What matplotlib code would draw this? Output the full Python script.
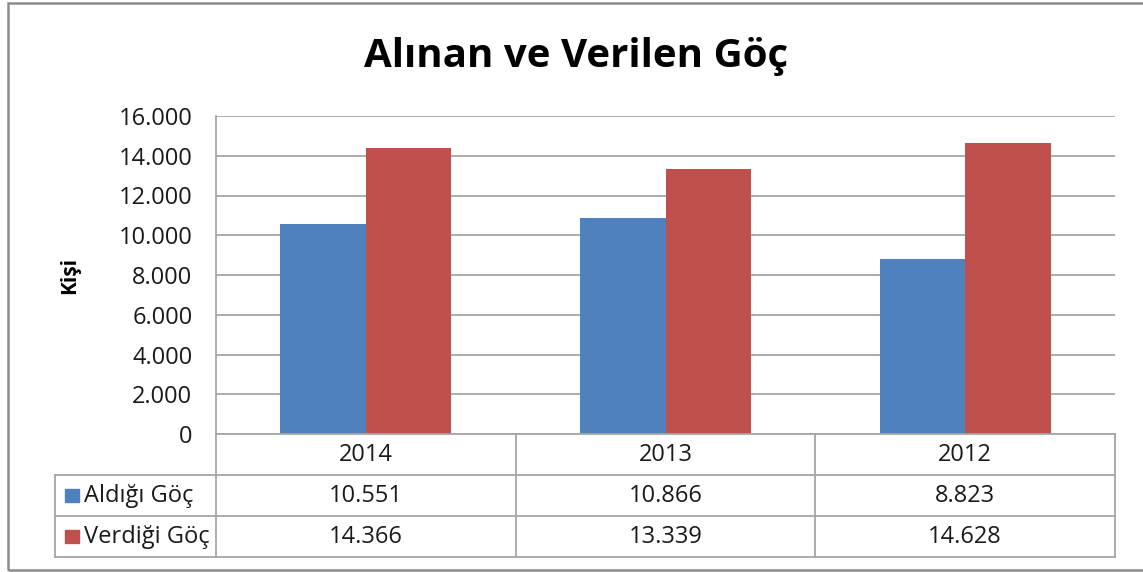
import matplotlib
matplotlib.use("Agg")
import matplotlib.pyplot as plt
from matplotlib.patches import Rectangle

years = ["2014", "2013", "2012"]
series_names = ["Aldığı Göç", "Verdiği Göç"]
aldigi = [10551, 10866, 8823]
verdigi = [14366, 13339, 14628]
yticks = [0, 2000, 4000, 6000, 8000, 10000, 12000, 14000, 16000]
title = "Alınan ve Verilen Göç"
ylabel = "Kişi"

colors = ["#4F81BD", "#C0504D"]
grid_c = "#A6A6A6"
FONT = ["Open Sans", "DejaVu Sans"]
plt.rcParams["font.family"] = FONT

W, H = 1143, 572
fig = plt.figure(figsize=(W / 100, H / 100), dpi=100)
fig.patch.set_facecolor("white")

def fx(px):
    return px / W

def fy(py):
    return 1 - py / H

# outer frame
fig.add_artist(Rectangle((fx(8), fy(570)), fx(1150) - fx(8), fy(3) - fy(570),
                         transform=fig.transFigure, fill=False,
                         edgecolor="#8C8C8C", linewidth=1.8))

# plot axes
L, R, T, B = 216, 1115, 116, 434
ax = fig.add_axes([fx(L), fy(B), fx(R) - fx(L), fy(T) - fy(B)])
n = len(years)
x = list(range(n))
bw = 1 / 3.5
ax.bar([i - bw / 2 for i in x], aldigi, width=bw, color=colors[0], zorder=3)
ax.bar([i + bw / 2 for i in x], verdigi, width=bw, color=colors[1], zorder=3)
ax.set_xlim(-0.5, n - 0.5)
ax.set_ylim(0, 16000)
ax.set_yticks(yticks)
ax.set_yticklabels([f"{v:,}".replace(",", ".") for v in yticks], fontsize=17, color="#1a1a1a")
ax.set_xticks([])
ax.tick_params(axis="y", length=0, pad=17)
ax.grid(axis="y", color=grid_c, linewidth=1.3, zorder=0)
for s in ["top", "right", "bottom"]:
    ax.spines[s].set_visible(False)
ax.spines["left"].set_color(grid_c)
ax.spines["left"].set_linewidth(1.3)
ax.set_ylabel(ylabel, fontsize=15, fontweight="bold", labelpad=28)

fig.text(fx(576), fy(57), title, ha="center", va="center", fontsize=29, fontweight="bold")

# data table
TL, TT, TB = 55, 434, 557
cat_px = (R - L) / n
label_w = (L - TL) / cat_px
tax = fig.add_axes([fx(TL), fy(TB), fx(R) - fx(TL), fy(TT) - fy(TB)])
tax.set_xlim(-0.5 - label_w, n - 0.5)
tax.set_ylim(3, 0)
tax.axis("off")
lc = grid_c
lw = 1.3
tax.plot([-0.5, n - 0.5], [0, 0], color=lc, lw=lw, clip_on=False)
for yv in [1, 2, 3]:
    tax.plot([-0.5 - label_w, n - 0.5], [yv, yv], color=lc, lw=lw, clip_on=False)
tax.plot([-0.5 - label_w] * 2, [1, 3], color=lc, lw=lw, clip_on=False)
for xv in range(n + 1):
    tax.plot([xv - 0.5] * 2, [0, 3], color=lc, lw=lw, clip_on=False)

rows = [aldigi, verdigi]
for i, yr in enumerate(years):
    tax.text(i, 0.52, yr, ha="center", va="center", fontsize=17, color="#1a1a1a")
    for r, vals in enumerate(rows):
        tax.text(i, r + 1.52, f"{vals[i]:,}".replace(",", "."), ha="center", va="center",
                 fontsize=17, color="#1a1a1a")
x0 = -0.5 - label_w
for r, name in enumerate(series_names):
    tax.add_patch(Rectangle((x0 + 10 / cat_px, r + 1.5 - 0.17), 14 / cat_px, 0.34,
                            color=colors[r], clip_on=False))
    tax.text(x0 + 29 / cat_px, r + 1.52, name, ha="left", va="center",
             fontsize=17, color="#1a1a1a")

fig.savefig("out.png", dpi=100, facecolor="white")
